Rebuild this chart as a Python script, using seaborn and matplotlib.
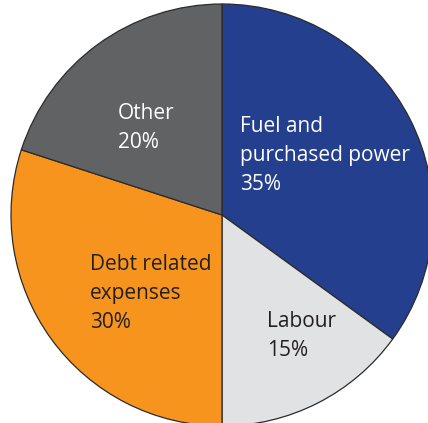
import matplotlib
matplotlib.use("Agg")
import matplotlib.pyplot as plt
import seaborn as sns

# Cost breakdown (percent of total)
categories = ["Fuel and\npurchased power", "Labour", "Debt related\nexpenses", "Other"]
shares = [35, 15, 30, 20]
colors = ["#243F8E", "#E1E2E4", "#F7941E", "#616264"]
text_colors = ["white", "#231F20", "#231F20", "white"]
# label anchor (left/top) in figure pixels
label_pos = [(240, 116), (267, 311), (90, 254), (118, 103)]

sns.set_theme(style="white")
plt.rcParams["font.family"] = ["Open Sans", "DejaVu Sans"]

W, H = 428, 423
fig = plt.figure(figsize=(W / 100, H / 100), dpi=100)
fig.patch.set_facecolor("white")

cx, cy, r = 222, 215, 211
ax = fig.add_axes([(cx - r) / W, (H - cy - r) / H, 2 * r / W, 2 * r / H])
ax.pie(shares, colors=colors, startangle=90, counterclock=False, radius=1,
       wedgeprops=dict(edgecolor="#2B2B2B", linewidth=0.9))
ax.set_xlim(-1, 1)
ax.set_ylim(-1, 1)
ax.set_aspect("auto")
ax.axis("off")

for name, val, tc, (px, py) in zip(categories, shares, text_colors, label_pos):
    fig.text(px / W, 1 - py / H, f"{name}\n{val}%", color=tc, fontsize=15,
             ha="left", va="top", linespacing=1.5)

fig.savefig("out.png", dpi=100)
